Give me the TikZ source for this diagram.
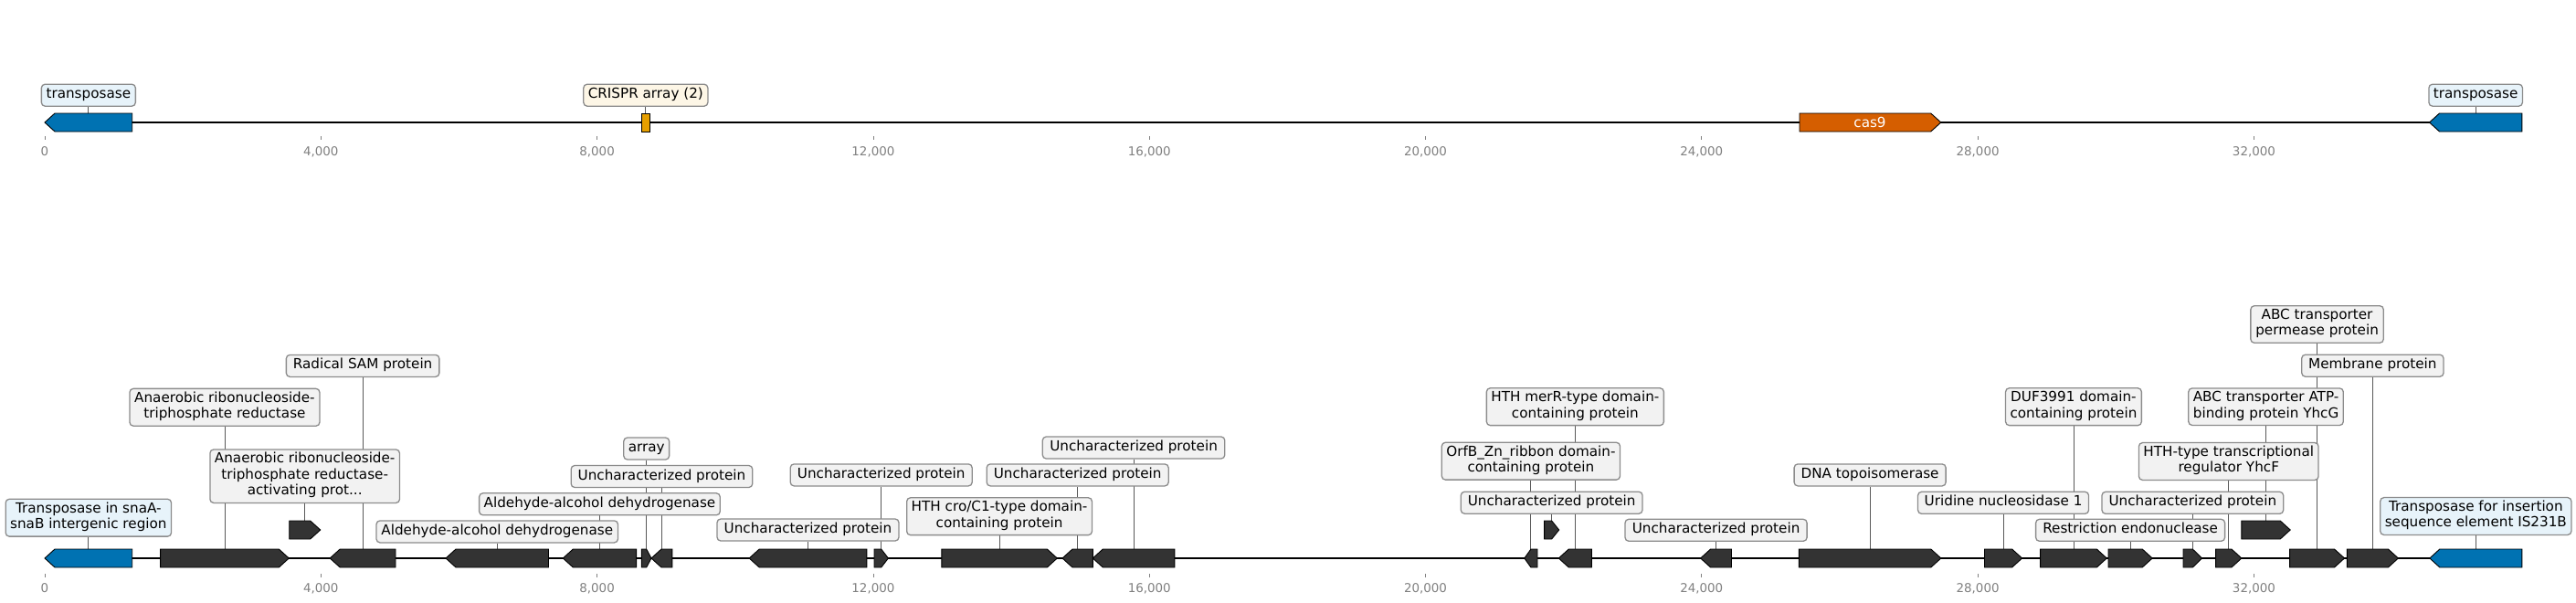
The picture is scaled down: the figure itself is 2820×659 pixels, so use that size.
\documentclass[tikz,border=0pt]{standalone}
\usepackage{fontspec}
\setmainfont{DejaVu Sans}
\pgfdeclarelayer{paper}
\pgfdeclarelayer{back}
\pgfsetlayers{paper,back,main}
\definecolor{gblue}{HTML}{0072B2}
\definecolor{gorange}{HTML}{D55E00}
\definecolor{gyellow}{HTML}{E69F00}
\definecolor{gdark}{HTML}{333333}
\definecolor{lblue}{HTML}{E7F3FA}
\definecolor{lcream}{HTML}{FDF6E6}
\definecolor{lgrey}{HTML}{F2F2F2}
\definecolor{lborder}{HTML}{8C8C8C}
\definecolor{tickgray}{HTML}{808080}
\newcommand{\labfont}{\fontsize{15.2}{17.6}\selectfont}
\newcommand{\tickfont}{\fontsize{13.4}{15}\selectfont}
\newcommand{\rgene}[5]{%
  \pgfmathsetmacro{\ghd}{min(11,(#3-#2)/2)}%
  \draw[#5] (#2,{#4-10}) -- ({#3-\ghd},{#4-10}) -- (#3,#4) -- ({#3-\ghd},{#4+10}) -- (#2,{#4+10}) -- cycle;%
  \coordinate (#1) at ({(#2+#3)/2},{#4-10});%
}
\newcommand{\lgene}[5]{%
  \pgfmathsetmacro{\ghd}{min(11,(#3-#2)/2)}%
  \draw[#5] (#2,#4) -- ({#2+\ghd},{#4-10}) -- (#3,{#4-10}) -- (#3,{#4+10}) -- ({#2+\ghd},{#4+10}) -- cycle;%
  \coordinate (#1) at ({(#2+#3)/2},{#4-10});%
}
\tikzset{
  gdk/.style={draw=black, line width=0.9pt, fill=gdark, line join=miter},
  gbl/.style={draw=black, line width=0.9pt, fill=gblue, line join=miter},
  gor/.style={draw=black, line width=0.9pt, fill=gorange, line join=miter},
  lab/.style={draw=lborder, line width=1.3pt, rounded corners=4pt, fill=lgrey,
    font=\labfont, align=center, inner xsep=5pt, inner ysep=3.2pt,
    execute at begin node=\strut, execute at end node=\strut},
  labb/.style={lab, fill=lblue},
  labc/.style={lab, fill=lcream},
  conn/.style={draw=black!65, line width=0.9pt},
  track/.style={draw=black, line width=2.4pt},
  tickm/.style={draw=tickgray, line width=0.8pt},
  ticklab/.style={font=\tickfont, text=tickgray, inner sep=0pt}
}
\begin{document}
\begin{tikzpicture}[x=1pt, y=-1pt]
\useasboundingbox (0,0) rectangle (2820,659);
\begin{pgfonlayer}{paper}
  \fill[white] (0,0) rectangle (2820,659);
\end{pgfonlayer}

% ---------- top track ----------
\coordinate (ts) at (49,134);
\coordinate (te) at (2760.8,134);
\lgene{t1}{49}{144.7}{134}{gbl}
\draw[draw=black, line width=0.9pt, fill=gyellow] (702.7,124) rectangle (711,144);
\coordinate (t2) at (706.85,124);
\rgene{t3}{1970}{2124.7}{134}{gor}
\node[font=\labfont, text=white, inner sep=0pt] (cas9) at (2047,134) {cas9};
\lgene{t4}{2659.5}{2760.8}{134}{gbl}

\node[labb, minimum width=103] (Lt1) at (t1 |- 0,104.2) {transposase};
\node[labc, minimum width=136] (Lt2) at (t2 |- 0,104.2) {CRISPR array (2)};
\node[labb, minimum width=102] (Lt4) at (t4 |- 0,104.2) {transposase};

% ---------- bottom track ----------
\coordinate (bs) at (49,611);
\coordinate (be) at (2760.8,611);
\lgene{b1}{49}{144.7}{611}{gbl}
\rgene{b2}{175.6}{316.3}{611}{gdk}
\rgene{b3}{316.7}{350.7}{580}{gdk}
\lgene{b4}{361.2}{433}{611}{gdk}
\lgene{b5}{488}{600.5}{611}{gdk}
\lgene{b6}{616.3}{696.6}{611}{gdk}
\rgene{b7}{702.4}{713}{611}{gdk}
\lgene{b8}{713}{735.9}{611}{gdk}
\lgene{b9}{820.2}{948.8}{611}{gdk}
\rgene{b10}{957}{972.4}{611}{gdk}
\rgene{b11}{1030.8}{1157.3}{611}{gdk}
\lgene{b12}{1163}{1196.3}{611}{gdk}
\lgene{b13}{1196.3}{1285.8}{611}{gdk}
\lgene{b14}{1668.8}{1683}{611}{gdk}
\rgene{b15}{1690.6}{1706.7}{580}{gdk}
\lgene{b16}{1706.3}{1742.4}{611}{gdk}
\lgene{b17}{1861.6}{1895.5}{611}{gdk}
\rgene{b18}{1969.4}{2124.8}{611}{gdk}
\rgene{b19}{2172.5}{2213.6}{611}{gdk}
\rgene{b20}{2233.6}{2306.3}{611}{gdk}
\rgene{b21}{2308}{2356.2}{611}{gdk}
\rgene{b22}{2390}{2410.6}{611}{gdk}
\rgene{b23}{2425.6}{2453.9}{611}{gdk}
\rgene{b24}{2453.9}{2507.2}{580}{gdk}
\rgene{b25}{2506.6}{2566.5}{611}{gdk}
\rgene{b26}{2569.3}{2625.4}{611}{gdk}
\lgene{b27}{2659.8}{2760.8}{611}{gbl}

\node[labb, minimum width=181] (L1) at (b1 |- 0,566.7) {Transposase in snaA-\\snaB intergenic region};
\node[lab, minimum width=208] (L2) at (b2 |- 0,445.8) {Anaerobic ribonucleoside-\\triphosphate reductase};
\node[lab, minimum width=207.6] (L3) at (b3 |- 0,521.2) {Anaerobic ribonucleoside-\\triphosphate reductase-\\activating prot...};
\node[lab, minimum width=167.5] (L4) at (b4 |- 0,400.4) {Radical SAM protein};
\node[lab, minimum width=264.5] (L5) at (b5 |- 0,581.9) {Aldehyde-alcohol dehydrogenase};
\node[lab, minimum width=263.5] (L6) at (b6 |- 0,551.8) {Aldehyde-alcohol dehydrogenase};
\node[lab, minimum width=48.2] (L7) at (b7 |- 0,491) {array};
\node[lab, minimum width=198.6] (L8) at (b8 |- 0,521.5) {Uncharacterized protein};
\node[lab, minimum width=199] (L9) at (b9 |- 0,580) {Uncharacterized protein};
\node[lab, minimum width=199] (L10) at (b10 |- 0,519.9) {Uncharacterized protein};
\node[lab, minimum width=202.8] (L11) at (b11 |- 0,565.2) {HTH cro/C1-type domain-\\containing protein};
\node[lab, minimum width=199] (L12) at (b12 |- 0,519.9) {Uncharacterized protein};
\node[lab, minimum width=199.5] (L13) at (b13 |- 0,490) {Uncharacterized protein};
\node[lab, minimum width=195] (L14) at (b14 |- 0,504.7) {OrfB\_Zn\_ribbon domain-\\containing protein};
\node[lab, minimum width=198.8] (L15) at (b15 |- 0,550.2) {Uncharacterized protein};
\node[lab, minimum width=194] (L16) at (b16 |- 0,445.2) {HTH merR-type domain-\\containing protein};
\node[lab, minimum width=199.1] (L17) at (b17 |- 0,580.3) {Uncharacterized protein};
\node[lab, minimum width=166] (L18) at (b18 |- 0,519.9) {DNA topoisomerase};
\node[lab, minimum width=187] (L19) at (b19 |- 0,550.3) {Uridine nucleosidase 1};
\node[lab, minimum width=148.8] (L20) at (b20 |- 0,445.2) {DUF3991 domain-\\containing protein};
\node[lab, minimum width=207] (L21) at (b21 |- 0,580.3) {Restriction endonuclease};
\node[lab, minimum width=198.7] (L22) at (b22 |- 0,550.3) {Uncharacterized protein};
\node[lab, minimum width=196.5] (L23) at (b23 |- 0,505) {HTH-type transcriptional\\regulator YhcF};
\node[lab, minimum width=169.2] (L24) at (b24 |- 0,445.2) {ABC transporter ATP-\\binding protein YhcG};
\node[lab, minimum width=145.4] (L25) at (b25 |- 0,355) {ABC transporter\\permease protein};
\node[lab, minimum width=155.3] (L26) at (b26 |- 0,400.2) {Membrane protein};
\node[labb, minimum width=208.6] (L27) at (b27 |- 0,565) {Transposase for insertion\\sequence element IS231B};

% ---------- axes ----------
\foreach \k/\t in {0/0,1/{4,000},2/{8,000},3/{12,000},4/{16,000},5/{20,000},6/{24,000},7/{28,000},8/{32,000}}{
  \pgfmathsetmacro{\tx}{49+302.3*\k}
  \draw[tickm] (\tx,149) -- (\tx,153);
  \node[ticklab] (tt\k) at (\tx,166) {\t};
  \draw[tickm] (\tx,628) -- (\tx,632);
  \node[ticklab] (tb\k) at (\tx,644) {\t};
}

% ---------- background: tracks and connectors ----------
\begin{pgfonlayer}{back}
  \draw[track] (ts) -- (te);
  \draw[track] (bs) -- (be);
  \foreach \n in {1,2,4}{\draw[conn] (Lt\n) -- (t\n);}
  \foreach \n in {1,...,27}{\draw[conn] (L\n) -- (b\n);}
\end{pgfonlayer}
\end{tikzpicture}
\end{document}
